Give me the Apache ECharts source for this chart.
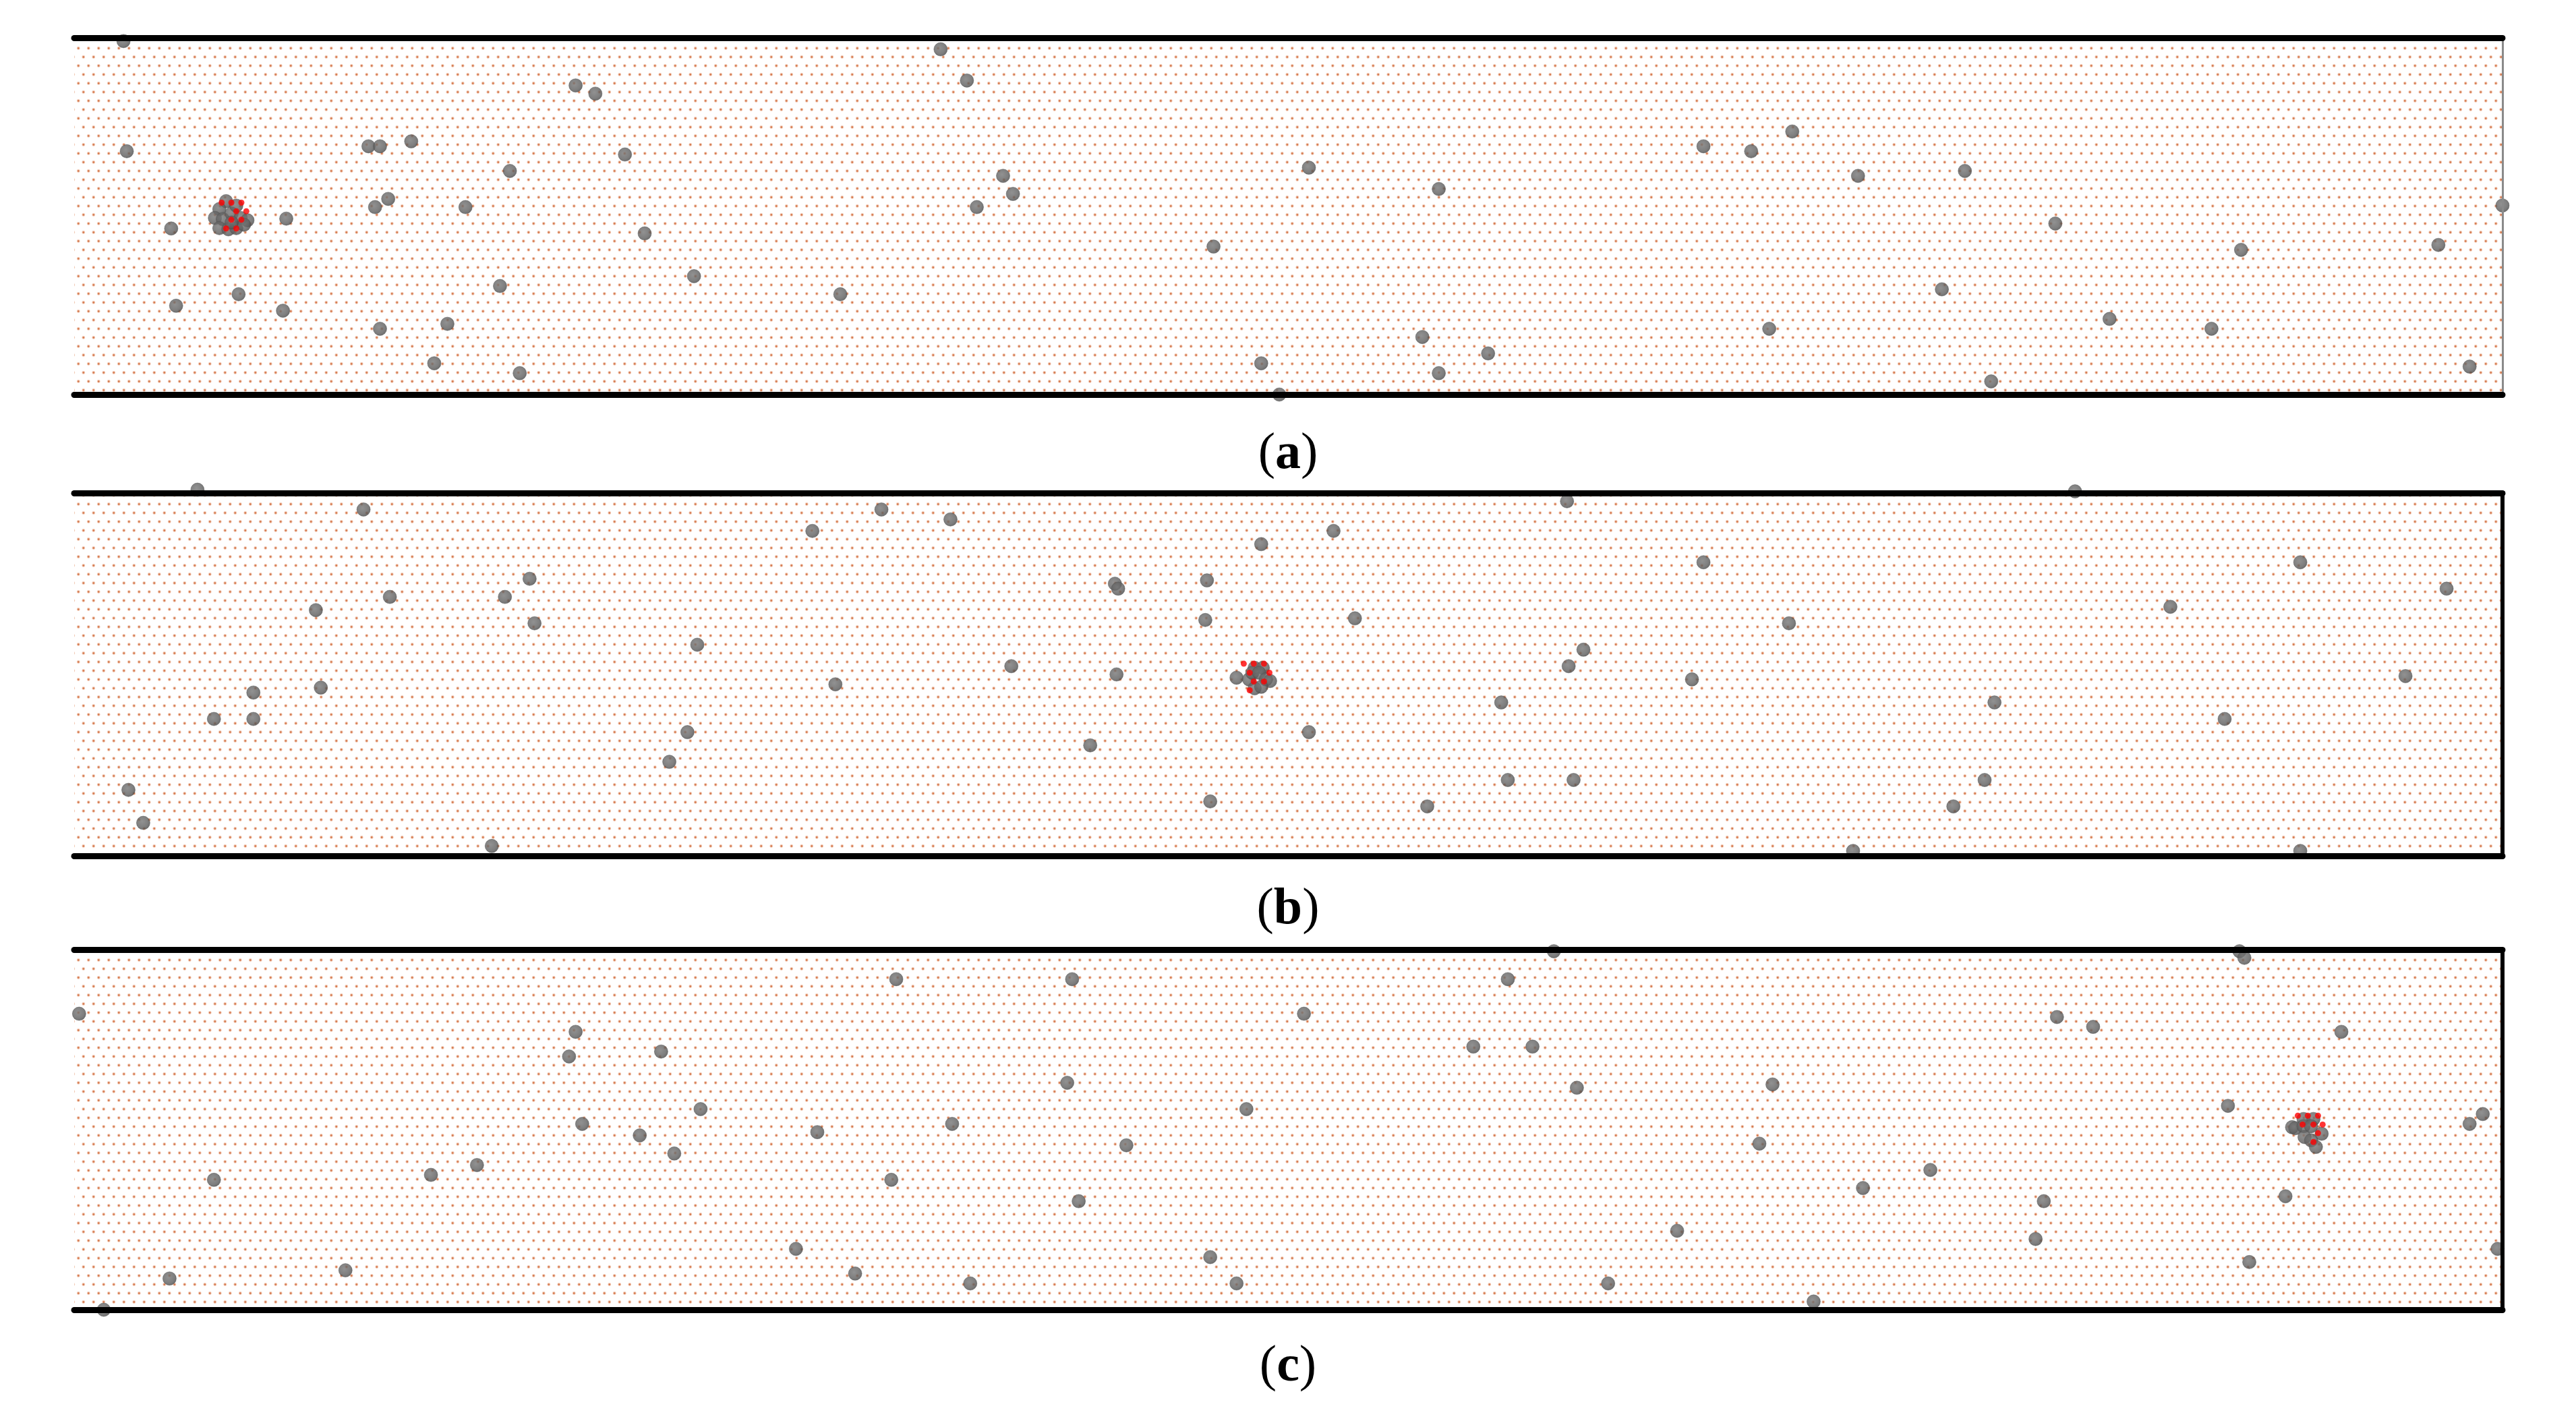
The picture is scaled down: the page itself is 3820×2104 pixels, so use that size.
<!DOCTYPE html>
<html>
<head>
<meta charset="utf-8">
<title>Particle snapshots</title>
<script src="https://cdn.jsdelivr.net/npm/echarts@6.0.0/dist/echarts.min.js"></script>
<style>
  html, body { margin: 0; padding: 0; background: #ffffff; }
  #main { width: 3820px; height: 2104px; }
</style>
</head>
<body>
<div id="main"></div>
<script>
// positions: x along the channel (0-1477), y down from the top wall
var captions = ["a", "b", "c"];

var particlesA = [
  [30, 3], [32, 70], [59, 117], [62, 164], [100, 157], [127, 167], [129, 111],
  [179, 67], [186, 67], [205, 64], [183, 104], [191, 99], [186, 178], [219, 199],
  [227, 175], [238, 104], [259, 152], [265, 82], [271, 205], [305, 30], [317, 35],
  [335, 72], [347, 120], [377, 146], [466, 157], [527, 8], [543, 27], [565, 85],
  [571, 96], [549, 104], [693, 128], [722, 199], [733, 218], [751, 80], [820, 183],
  [830, 93], [830, 205], [860, 193], [991, 67], [1020, 70], [1045, 58], [1031, 178],
  [1085, 85], [1136, 154], [1150, 82], [1166, 210], [1205, 114], [1238, 172],
  [1300, 178], [1318, 130], [1438, 127], [1457, 201], [1477, 103]
];
var clusterA = [
  [92.4, 100.4], [88.3, 105.2], [85.6, 110.6], [90.4, 111.3], [95.8, 107.9],
  [98.6, 103.1], [101.3, 110.6], [105.4, 112], [88.3, 116.8], [93.8, 117.5],
  [98.6, 116.8], [103.3, 114.7], [95.8, 113.4]
];
var nodesA = [
  [89.7, 101.3], [95.6, 101.3], [101.7, 101.3], [98.6, 106.5], [104.7, 106.5],
  [95.6, 111.7], [101.7, 111.7], [92.4, 117], [98.6, 117]
];

var particlesB = [
  [75, -2], [176, 10], [33, 180], [42, 200], [85, 137], [109, 121], [109, 137],
  [147, 71], [150, 118], [192, 63], [262, 63], [277, 52], [280, 79], [254, 214],
  [362, 163], [373, 145], [379, 92], [449, 23], [463, 116], [491, 10], [533, 16],
  [570, 105], [618, 153], [633, 55], [635, 58], [634, 110], [689, 53], [688, 77],
  [691, 187], [722, 31], [766, 23], [751, 145], [779, 76], [823, 190], [868, 127],
  [872, 174], [908, 5], [909, 105], [918, 95], [912, 174], [984, 113], [991, 42],
  [1043, 79], [1082, 217], [1143, 190], [1162, 174], [1168, 127], [1217, -1],
  [1275, 69], [1308, 137], [1354, 42], [1354, 217], [1418, 111], [1443, 58]
];
var clusterB = [
  [707, 112], [718, 106], [723, 106], [714.6, 113], [716.6, 109], [720.7, 109],
  [724.9, 113], [727.4, 114], [718, 118.4], [722, 117.5]
];
var nodesB = [
  [711.4, 103.5], [717.5, 103.5], [723.7, 103.5], [715, 109], [727, 109],
  [717.5, 114.3], [723.7, 114.3], [715, 119.6]
];

var particlesC = [
  [3, 39], [58, 200], [85, 140], [18, 219], [165, 195], [217, 137], [245, 131],
  [301, 65], [305, 50], [309, 106], [344, 113], [357, 62], [365, 124], [381, 97],
  [439, 182], [452, 111], [475, 197], [497, 140], [500, 18], [534, 106], [545, 203],
  [604, 81], [607, 18], [611, 153], [640, 119], [691, 187], [707, 203], [713, 97],
  [748, 39], [851, 59], [872, 18], [887, 59], [900, 1], [914, 84], [933, 203],
  [975, 171], [1025, 118], [1033, 82], [1058, 214], [1088, 145], [1129, 134],
  [1193, 176], [1198, 153], [1206, 41], [1228, 47], [1317, 1], [1320, 5],
  [1310, 95], [1323, 190], [1345, 150], [1379, 50], [1457, 106], [1465, 100],
  [1474, 182]
];
var clusterC = [
  [1349, 108], [1356, 103], [1362, 103], [1351, 108.6], [1356, 107.4],
  [1360.6, 107.4], [1356.6, 114], [1360.6, 116], [1367, 112], [1363.5, 120]
];
var nodesC = [
  [1352.5, 101], [1358.6, 101], [1364.8, 101], [1355.4, 106.4], [1362, 106.4],
  [1367.6, 106.4], [1364.8, 111.6], [1362, 117]
];

var panels = [
  { particles: particlesA, cluster: clusterA, nodes: nodesA, top: 56, height: 529, yMin: 1, yMax: 218, right: { color: "#8a8a8a", width: 3 }, capY: 677 },
  { particles: particlesB, cluster: clusterB, nodes: nodesB, top: 731, height: 538, yMin: 0, yMax: 220, right: { color: "#000000", width: 6 }, capY: 1352 },
  { particles: particlesC, cluster: clusterC, nodes: nodesC, top: 1408, height: 534, yMin: 0, yMax: 219, right: { color: "#000000", width: 6 }, capY: 2030 }
];

// lattice texture for the fluid nodes
var tile = document.createElement("canvas");
tile.width = 15;
tile.height = 26;
var tctx = tile.getContext("2d");
[[3.75, 6.5], [11.25, 19.5]].forEach(function (p) {
  tctx.fillStyle = "rgba(228, 150, 110, 0.5)";
  tctx.beginPath();
  tctx.arc(p[0], p[1], 2.4, 0, Math.PI * 2);
  tctx.fill();
  tctx.fillStyle = "rgba(206, 104, 56, 0.9)";
  tctx.beginPath();
  tctx.arc(p[0], p[1], 1.3, 0, Math.PI * 2);
  tctx.fill();
});

var particleColor = {
  type: "radial", x: 0.42, y: 0.4, r: 0.6,
  colorStops: [
    { offset: 0, color: "#767676" },
    { offset: 0.7, color: "#5f5f5f" },
    { offset: 1, color: "#4a4a4a" }
  ]
};

var chartDom = document.getElementById("main");
var myChart = echarts.init(chartDom);
var option;

var grid = [], xAxis = [], yAxis = [], series = [], title = [];

panels.forEach(function (p, i) {
  grid.push({
    left: 110, right: 109, top: p.top, height: p.height,
    show: true, borderWidth: 0,
    backgroundColor: { image: tile, repeat: "repeat" }
  });
  ["bottom", "top"].forEach(function (pos) {
    xAxis.push({
      gridIndex: i, type: "value", min: 0, max: 1477, position: pos, z: 10,
      axisLine: { show: true, onZero: false, lineStyle: { color: "#000000", width: 9 } },
      axisTick: { show: false }, axisLabel: { show: false }, splitLine: { show: false }
    });
  });
  yAxis.push({
    gridIndex: i, type: "value", min: p.yMin, max: p.yMax, inverse: true, position: "left",
    axisLine: { show: false }, axisTick: { show: false }, axisLabel: { show: false }, splitLine: { show: false }
  });
  yAxis.push({
    gridIndex: i, type: "value", min: p.yMin, max: p.yMax, inverse: true, position: "right", z: 10,
    axisLine: { show: true, onZero: false, lineStyle: { color: p.right.color, width: p.right.width } },
    axisTick: { show: false }, axisLabel: { show: false }, splitLine: { show: false }
  });

  series.push({
    type: "scatter", xAxisIndex: i * 2, yAxisIndex: i * 2, clip: false,
    data: p.particles.concat(p.cluster), symbolSize: 20, silent: true,
    itemStyle: { color: particleColor, borderColor: "#505050", borderWidth: 0.6 }
  });
  series.push({
    type: "scatter", xAxisIndex: i * 2, yAxisIndex: i * 2, clip: false, z: 3,
    data: p.nodes, symbolSize: 9, silent: true,
    itemStyle: { color: "#ff0000" }
  });

  title.push({
    text: "{p|(}{b|" + captions[i] + "}{p|)}",
    left: "center", top: p.capY - 46,
    textStyle: {
      rich: {
        p: { fontFamily: "Liberation Serif", fontSize: 76, fontWeight: "normal", color: "#000000" },
        b: { fontFamily: "Liberation Serif", fontSize: 76, fontWeight: "bold", color: "#000000" }
      }
    }
  });
});

option = {
  animation: false,
  backgroundColor: "#ffffff",
  title: title,
  grid: grid,
  xAxis: xAxis,
  yAxis: yAxis,
  series: series
};

option && myChart.setOption(option);
</script>
</body>
</html>
